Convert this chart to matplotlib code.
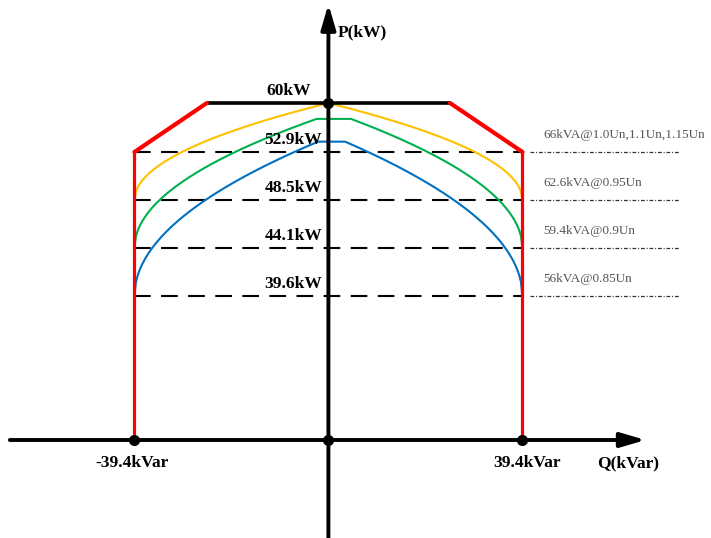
import matplotlib.pyplot as plt
import numpy as np

plt.rcParams["font.family"] = ["Liberation Serif", "DejaVu Serif"]

# limits of the P-Q diagram
q_limit = 39.4          # kVar, reactive power limit
p_max = 60.0            # kW, active power limit
q_corner = 24.7         # kVar where the 66kVA edge meets the 60kW line

# dashed levels (kW) and their apparent-power labels
p_levels = [52.9, 48.5, 44.1, 39.6]
s_labels = ["66kVA@1.0Un,1.1Un,1.15Un", "62.6kVA@0.95Un", "59.4kVA@0.9Un", "56kVA@0.85Un"]

# coloured capability curves: P at |Q|=39.4, P at the top, flat top span
curve_colors = ["#FFC000", "#00B050", "#0070C0"]
curve_end_p = [48.5, 44.1, 39.6]
curve_peak_p = [60.0, 57.7, 54.4]
curve_flat_q = [(0.0, 0.0), (-2.4, 4.6), (-2.1, 3.4)]

# the diagram is not to scale: each dashed level sits one row apart
knot_p = [-100, 0, 39.6, 44.1, 48.5, 52.9, 60, 100]
knot_r = [-100 * 3 / 39.6, 0, 3, 4, 5, 6, 7.02, 7.02 + 40 * 1.02 / 7.1]


def fwd(p):
    return np.interp(p, knot_p, knot_r)


def inv(r):
    return np.interp(r, knot_r, knot_p)


def capability_curve(p_end, p_peak, q_lo, q_hi, n=120):
    r_end, r_peak = fwd(p_end), fwd(p_peak)
    left = np.linspace(-q_limit, q_lo, n)
    u = (left - q_lo) / (-q_limit - q_lo)
    r_left = r_end + (r_peak - r_end) * np.sqrt(np.clip(1 - u, 0, 1))
    right = np.linspace(q_hi, q_limit, n)
    u = (right - q_hi) / (q_limit - q_hi)
    r_right = r_end + (r_peak - r_end) * np.sqrt(np.clip(1 - u, 0, 1))
    return np.concatenate([left, right]), inv(np.concatenate([r_left, r_right]))


fig = plt.figure(figsize=(7.11, 5.38), dpi=100)
ax = fig.add_axes([0, 0, 1, 1])
ax.set_yscale("function", functions=(fwd, inv))
ax.set_xlim(-66.7, 77.7)
ax.set_ylim(inv(-98 / 48), inv(440 / 48))
ax.axis("off")

# dashed levels and the dash-dot leaders to the kVA labels
for p, s in zip(p_levels, s_labels):
    ax.plot([-q_limit, q_limit], [p, p], color="black", lw=1.5,
            linestyle=(0, (8, 5)), zorder=2)
    ax.plot([40.9, 71.4], [p, p], color="#333333", lw=0.9,
            linestyle=(0, (3, 1.5, 0.8, 1.5)), zorder=2)
    ax.annotate(s, xy=(43.6, p), xytext=(0, 12), textcoords="offset points",
                ha="left", va="center", fontsize=9.5, color="#555555")
    ax.annotate("{}kW".format(p), xy=(-1.3, p), xytext=(0, 8.6),
                textcoords="offset points", ha="right", va="center",
                fontsize=12.5, fontweight="bold", zorder=6)

# capability curves
for c, pe, pp, (qa, qb) in zip(curve_colors, curve_end_p, curve_peak_p, curve_flat_q):
    q, p = capability_curve(pe, pp, qa, qb)
    ax.plot(q, p, color=c, lw=1.5, zorder=3)

# outer boundary
ax.plot([-q_corner, q_corner], [p_max, p_max], color="black", lw=2.6, zorder=4,
        solid_capstyle="butt")
for side in (-1, 1):
    ax.plot([side * q_limit, side * q_corner], [p_levels[0], p_max], color="red",
            lw=3, zorder=4, solid_capstyle="round")
    ax.plot([side * q_limit, side * q_limit], [0, p_levels[0]], color="red",
            lw=2.3, zorder=4)

ax.annotate("{}kW".format(int(p_max)), xy=(-8, p_max), xytext=(0, 8.6),
            textcoords="offset points", ha="center", va="center",
            fontsize=12.5, fontweight="bold")

# axes with arrows
arrow = dict(arrowstyle="-|>,head_length=0.75,head_width=0.22", color="black",
             lw=2.8, shrinkA=0, shrinkB=0, mutation_scale=20)
ax.annotate("", xy=(64.4, 0), xytext=(-64.7, 0), arrowprops=arrow, zorder=5)
ax.annotate("", xy=(0, inv(9.08)), xytext=(0, inv(-98 / 48)), arrowprops=arrow, zorder=5)

ax.plot([-q_limit, 0, q_limit, 0], [0, 0, 0, p_max], "o", color="black",
        markersize=7, zorder=7)

ax.annotate("-{}kVar".format(q_limit), xy=(-q_limit, 0), xytext=(-2, -16.5),
            textcoords="offset points", ha="center", va="center",
            fontsize=12.5, fontweight="bold")
ax.annotate("{}kVar".format(q_limit), xy=(q_limit, 0), xytext=(3, -16.5),
            textcoords="offset points", ha="center", va="center",
            fontsize=12.5, fontweight="bold")
ax.annotate("Q(kVar)", xy=(64.4, 0), xytext=(-12.5, -16.5),
            textcoords="offset points", ha="center", va="center",
            fontsize=12.5, fontweight="bold")
ax.annotate("P(kW)", xy=(0, inv(9.08)), xytext=(6.5, -20.5),
            textcoords="offset points", ha="left", va="center",
            fontsize=12.5, fontweight="bold")

fig.savefig("out.png", dpi=100)
